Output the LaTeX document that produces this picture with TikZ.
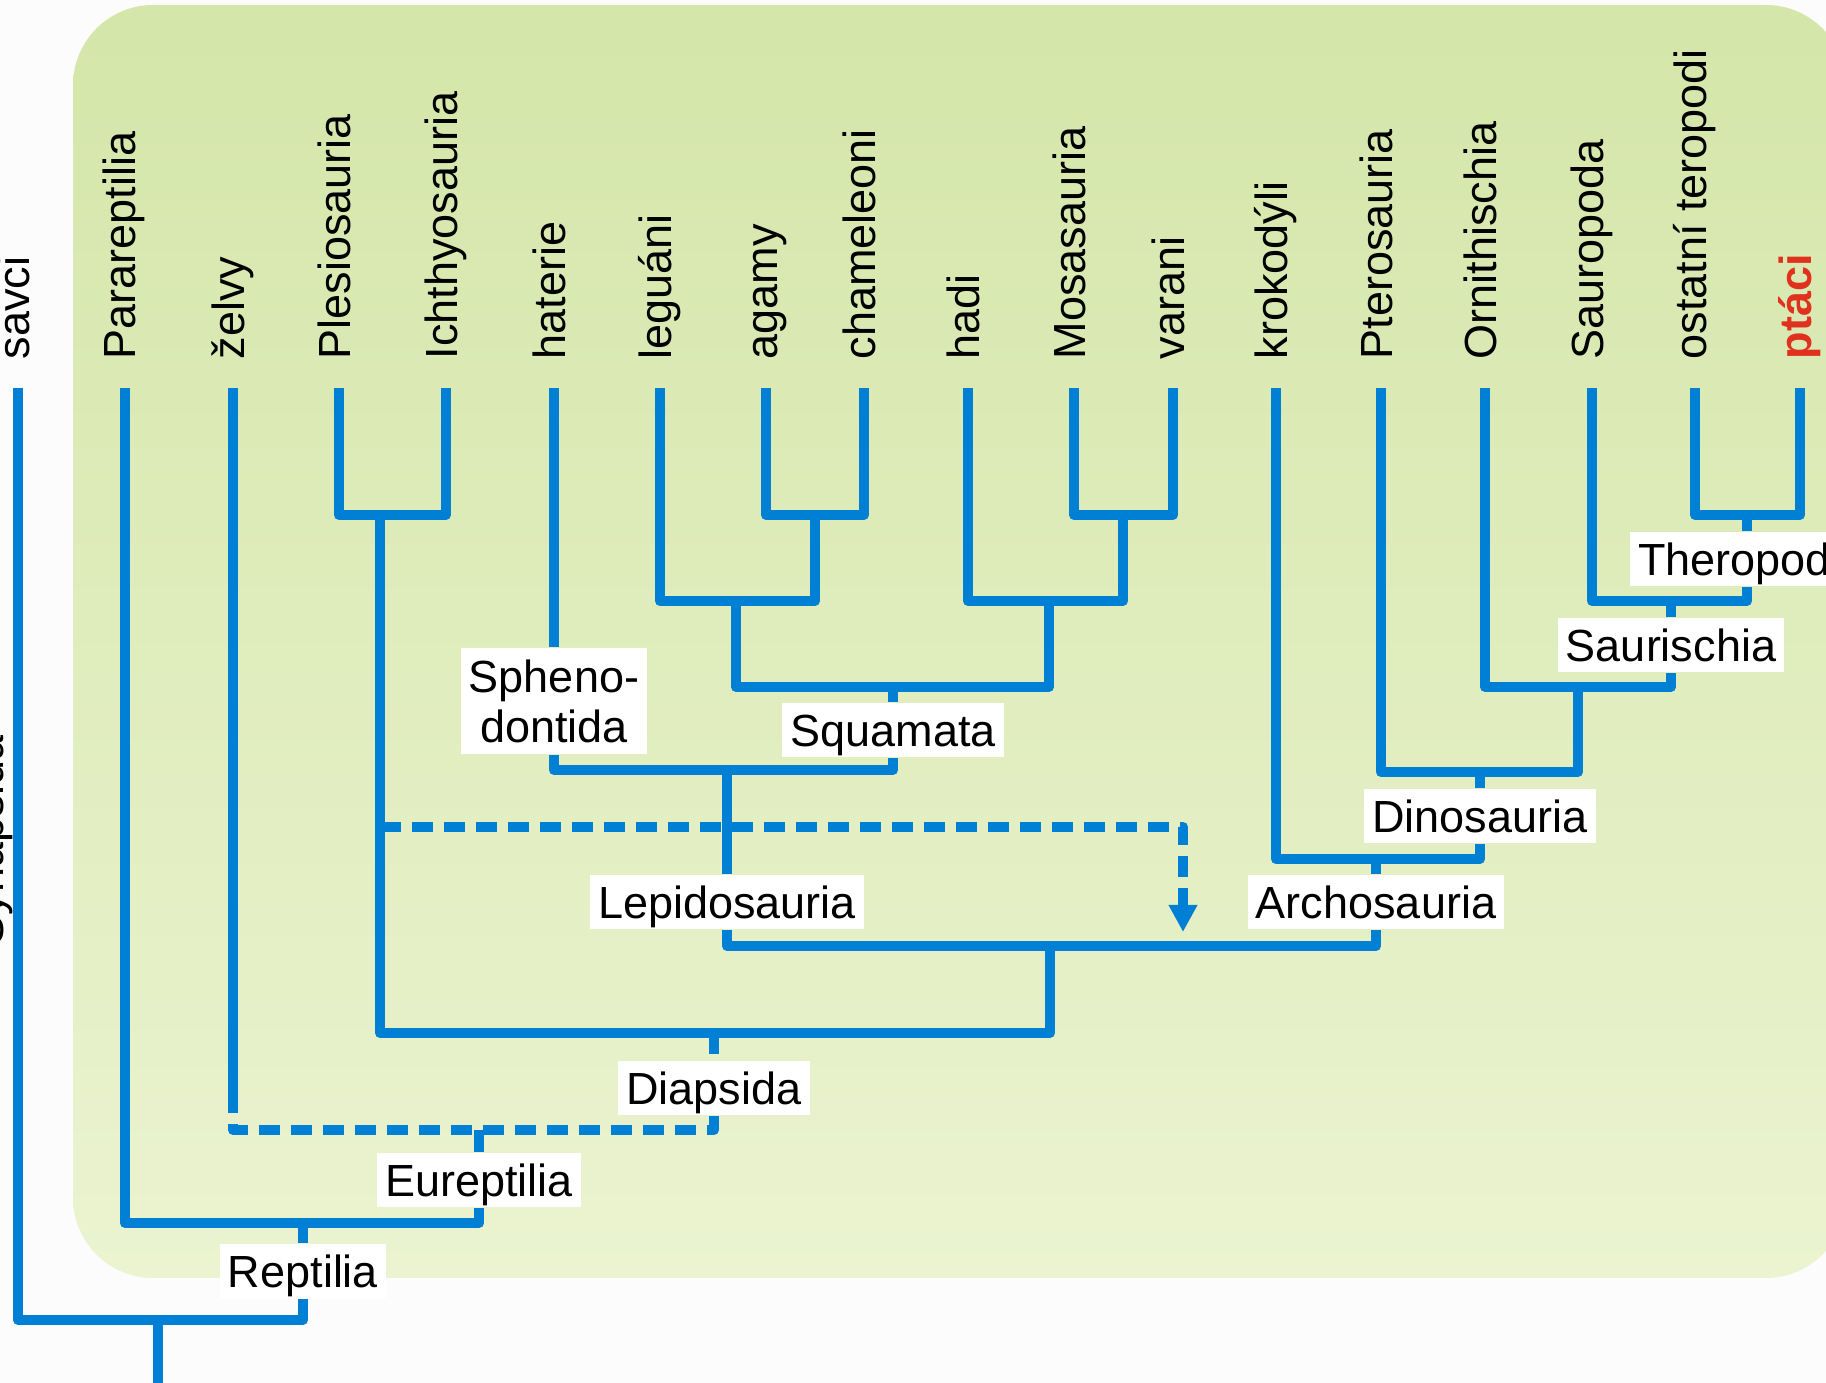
\documentclass[tikz,border=0pt]{standalone}
\usepackage{fontspec}
\setmainfont{Liberation Sans}
\usetikzlibrary{arrows.meta}
\tikzset{
  branch/.style={draw=treeblue, line width=2.85pt, line join=round},
  hybrid/.style={branch, dash pattern=on 6pt off 3.1pt},
  taxon/.style={rotate=90, anchor=base west, inner sep=0pt},
  clade/.style={fill=white, inner xsep=2.3pt, inner ysep=0pt, minimum height=15.6pt, text height=9.2pt, text depth=0pt},
}
\begin{document}
\begin{tikzpicture}[x=0.01cm, y=-0.01cm, font=\fontsize{12.8pt}{14.2pt}\selectfont]
\definecolor{treeblue}{HTML}{0080D5}
\definecolor{birdred}{HTML}{E0301E}
\definecolor{boxtop}{HTML}{D4E6A9}
\definecolor{boxbottom}{HTML}{EBF3D0}
\definecolor{pagebg}{HTML}{FCFCFC}
\pgfmathsetmacro\tipy{388}
\useasboundingbox (0,0) rectangle (1826,1383);
\fill[pagebg] (0,0) rectangle (1826,1383);
\shade[top color=boxtop, bottom color=boxbottom, rounded corners=22.8pt] (73,5) rectangle (1846,1278);
\node[taxon] (synapsida) at (3,946) {Synapsida};
\foreach \x/\n/\t in {18/savci/savci, 125/para/Parareptilia, 233/zelvy/želvy, 339/plesio/Plesiosauria, 446/ichthyo/Ichthyosauria, 554/hatt/haterie, 660/leg/leguáni, 766/agam/agamy, 864/cham/chameleoni, 968/hadi/hadi, 1074/mosa/Mosasauria, 1173/var/varani, 1276/krok/krokodýli, 1381/ptero/Pterosauria, 1485/orni/Ornithischia, 1592/sauro/Sauropoda, 1695/ostat/ostatní teropodi, 1800/ptaci/{\textbf{\color{birdred}ptáci}}}
{
  \node[taxon] (\n) at (\x+11,360) {\t};
  \coordinate (\n-top) at (\x,\tipy);
}
\node[fill=white, align=center, inner xsep=2.3pt, inner ysep=3.4pt] (spheno) at (554,701) {Spheno-\\dontida};
\node[clade] (squamata) at (893,730) {Squamata};
\node[clade] (lepido) at (727,902) {Lepidosauria};
\node[clade] (archo) at (1376,902) {Archosauria};
\node[clade] (dino) at (1480,816) {Dinosauria};
\node[clade] (sauris) at (1671,645) {Saurischia};
\node[clade] (thero) at (1747,559) {Theropoda};
\node[clade] (diaps) at (714,1088) {Diapsida};
\node[clade] (eurept) at (479,1180) {Eureptilia};
\node[clade] (rept) at (303,1271) {Reptilia};
\coordinate (jPI) at (380,515);
\coordinate (jAC) at (815,515);
\coordinate (jLAC) at (736,601);
\coordinate (jMV) at (1123,515);
\coordinate (jHMV) at (1049,601);
\coordinate (jSq) at (893,687);
\coordinate (jLep) at (727,770);
\coordinate (jLA) at (1050,946);
\coordinate (jDia) at (714,1033);
\coordinate (jOP) at (1747,515);
\coordinate (jST) at (1671,601);
\coordinate (jOS) at (1578,687);
\coordinate (jPD) at (1480,772);
\coordinate (jKD) at (1376,859);
\coordinate (jEu) at (479,1130);
\coordinate (zelvy-end) at (233,1112);
\coordinate (jRep) at (303,1223);
\coordinate (jRoot) at (158,1320);
\coordinate (root) at (158,1395);
\coordinate (hybStart) at (380,827);
\coordinate (hybEnd) at (1183,932);
\draw[branch] (plesio-top) |- (jPI) -| (ichthyo-top);
\draw[branch] (agam-top) |- (jAC) -| (cham-top);
\draw[branch] (leg-top) |- (jLAC) -| (jAC);
\draw[branch] (mosa-top) |- (jMV) -| (var-top);
\draw[branch] (hadi-top) |- (jHMV) -| (jMV);
\draw[branch] (jLAC) |- (jSq) -| (jHMV);
\draw[branch] (jSq) -- (squamata.north);
\draw[branch] (hatt-top) -- (spheno.north);
\draw[branch] (spheno.south) |- (jLep) -| (squamata.south);
\draw[branch] (jLep) -- (lepido.north);
\draw[branch] (lepido.south) |- (jLA) -| (archo.south);
\draw[branch] (ostat-top) |- (jOP) -| (ptaci-top);
\draw[branch] (jOP) -- (thero.north);
\draw[branch] (sauro-top) |- (jST) -| (thero.south);
\draw[branch] (jST) -- (sauris.north);
\draw[branch] (orni-top) |- (jOS) -| (sauris.south);
\draw[branch] (ptero-top) |- (jPD) -| (jOS);
\draw[branch] (jPD) -- (dino.north);
\draw[branch] (krok-top) |- (jKD) -| (dino.south);
\draw[branch] (jKD) -- (archo.north);
\draw[branch] (jPI) |- (jDia) -| (jLA);
\draw[hybrid] (jDia) -- (diaps.north);
\draw[hybrid] (diaps.south) |- (jEu) -| (zelvy-end);
\draw[branch] (zelvy-top) -- (zelvy-end);
\draw[branch] (jEu) -- (eurept.north);
\draw[branch] (para-top) |- (jRep) -| (eurept.south);
\draw[branch] (jRep) -- (rept.north);
\draw[branch] (savci-top) |- (jRoot) -| (rept.south);
\draw[branch] (jRoot) -- (root);
\draw[hybrid, -{Triangle[length=7.7pt, width=7.7pt]}] (hybStart) -| (hybEnd);
\end{tikzpicture}
\end{document}
